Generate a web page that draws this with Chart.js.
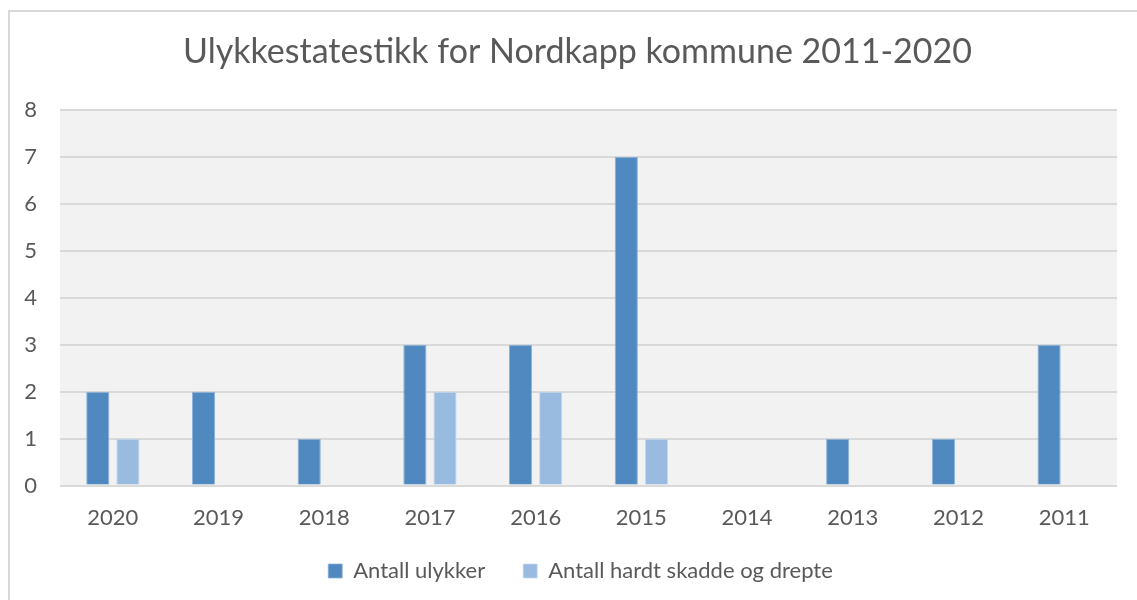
<!DOCTYPE html>
<html><head><meta charset="utf-8">
<script src="https://cdn.jsdelivr.net/npm/chart.js@4/dist/chart.umd.min.js"></script>
<style>
html,body{margin:0;padding:0;background:#fff;width:1137px;height:600px;overflow:hidden;}
#frame{position:absolute;left:8px;top:10px;width:1200px;height:700px;border-left:2px solid #d9d9d9;border-top:2px solid #d9d9d9;}
#wrap{position:absolute;left:0;top:0;width:1137px;height:600px;}
</style></head><body>
<div id="frame"></div>
<div id="wrap"><canvas id="c" width="1137" height="600"></canvas></div>
<script>
const categories = ["2020","2019","2018","2017","2016","2015","2014","2013","2012","2011"];
const antallUlykker = [2,2,1,3,3,7,0,1,1,3];
const hardtSkadde = [1,0,0,2,2,1,0,0,0,0];
const yTicks = [0,1,2,3,4,5,6,7,8];
const seriesNames = ["Antall ulykker","Antall hardt skadde og drepte"];

const layoutPlugin = {
  id:'layoutTweaks',
  afterInit(chart){
    const lg = chart.legend;
    if(lg){
      const d = 20, sx = 12;
      const origFit = lg.fit.bind(lg);
      lg.fit = function(){ origFit(); this.height -= d; };
      const origDraw = lg.draw.bind(lg);
      lg.draw = function(){
        const t=this.top,l=this.left,r=this.right;
        this.top -= d; this.left += sx; this.right += sx;
        origDraw();
        this.top=t; this.left=l; this.right=r;
      };
    }
    const tb = chart.titleBlock;
    if(tb){
      const sx = 9;
      const origDraw = tb.draw.bind(tb);
      tb.draw = function(){
        const l=this.left,r=this.right;
        this.left += sx; this.right += sx;
        origDraw();
        this.left=l; this.right=r;
      };
    }
  },
  beforeDraw(chart){
    const {ctx, chartArea:a} = chart;
    ctx.save(); ctx.fillStyle='#f2f2f2';
    ctx.fillRect(a.left,a.top,a.right-a.left,a.bottom-a.top);
    ctx.restore();
  }
};
const font = "Lato, 'Open Sans', sans-serif";
new Chart(document.getElementById('c'),{
  type:'bar',
  data:{labels:categories,datasets:[
    {label:seriesNames[0],data:antallUlykker,backgroundColor:'#4f89bf',borderColor:'#8db3d9',borderWidth:{top:1,left:1,right:1,bottom:0},categoryPercentage:0.57,barPercentage:0.77},
    {label:seriesNames[1],data:hardtSkadde,backgroundColor:'#9abbe0',borderColor:'#c4d8ee',borderWidth:{top:1,left:1,right:1,bottom:0},categoryPercentage:0.57,barPercentage:0.77}
  ]},
  options:{
    responsive:false,animation:false,
    layout:{padding:{left:20,right:20,top:8,bottom:8}},
    plugins:{
      title:{display:true,text:'Ulykkestatestikk for Nordkapp kommune 2011-2020',color:'#595959',font:{family:font,size:34,weight:'normal'},padding:{top:24,bottom:37}},
      legend:{position:'bottom',labels:{color:'#595959',font:{family:font,size:22},boxWidth:14,boxHeight:14,padding:38},},
      tooltip:{enabled:false}
    },
    scales:{
      x:{grid:{display:false},border:{display:false},ticks:{color:'#595959',font:{family:font,size:22},padding:11}},
      y:{min:0,max:8,afterBuildTicks(ax){ax.ticks=yTicks.map(v=>({value:v}));},
         afterFit(s){s.width=40;},
         grid:{color:'#d9d9d9',lineWidth:2,drawTicks:false},border:{display:false},
         ticks:{color:'#595959',font:{family:font,size:22},padding:23}}
    }
  },
  plugins:[layoutPlugin]
});
</script></body></html>
